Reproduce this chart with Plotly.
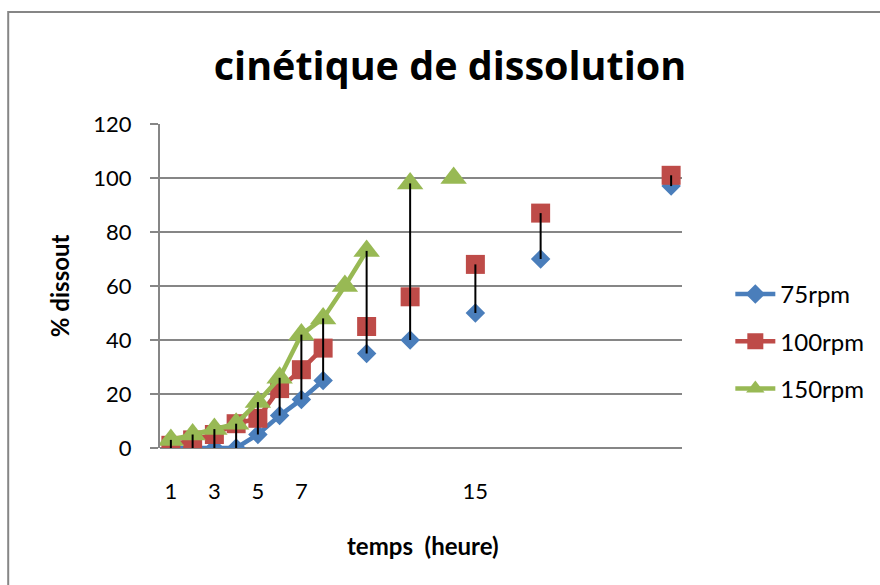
import plotly.graph_objects as go

# categories (hours)
hours = list(range(1, 25))
# values per series (None = no measurement)
rpm75 = {1: 0, 2: 0, 3: 0, 4: 0, 5: 5, 6: 12, 7: 18, 8: 25, 10: 35, 12: 40, 15: 50, 18: 70, 24: 97}
rpm100 = {1: 1, 2: 3, 3: 5, 4: 9, 5: 11, 6: 22, 7: 29, 8: 37, 10: 45, 12: 56, 15: 68, 18: 87, 24: 101}
rpm150 = {1: 3, 2: 5, 3: 7, 4: 9, 5: 17, 6: 26, 7: 42, 8: 48, 9: 60, 10: 73, 12: 98, 14: 100}
series_names = ["75rpm", "100rpm", "150rpm"]
tick_labels = [1, 3, 5, 7, 15]
y_ticks = [0, 20, 40, 60, 80, 100, 120]

W, H = 880, 585
L, R, T, B = 160, 880 - 682.7, 124, 585 - 448
PW, PH = W - L - R, H - T - B

def px_x(p):
    return (p - L) / PW

def px_y(p):
    return (H - B - p) / PH

colors = ["#4A7EBB", "#BE4B48", "#98B954"]
symbols = ["diamond", "square", "triangle-up"]
sizes = [15, 19, 23]
data = [rpm75, rpm100, rpm150]

fig = go.Figure()

for name, d, c, s, sz in zip(series_names, data, colors, symbols, sizes):
    ys = [d.get(h) for h in hours]
    fig.add_trace(go.Scatter(
        x=hours, y=ys, name=name, mode="lines+markers", connectgaps=False,
        line=dict(color=c, width=4.5),
        marker=dict(symbol=s, size=sz, color=c, line=dict(width=0)),
        legendgroup=name,
    ))

# high-low lines (drawn on top)
hx, hy = [], []
for h in hours:
    vals = [d[h] for d in data if h in d]
    if len(vals) >= 2:
        hx += [h, h, None]
        hy += [min(vals), max(vals), None]
fig.add_trace(go.Scatter(x=hx, y=hy, mode="lines", line=dict(color="black", width=2),
                         showlegend=False, hoverinfo="skip"))

font = "Lato, 'Open Sans', sans-serif"
tfont = "'Open Sans', sans-serif"
fig.update_layout(
    width=W, height=H,
    margin=dict(l=L, r=R, t=T, b=B),
    paper_bgcolor="white", plot_bgcolor="white",
    font=dict(family=font, size=22, color="black"),
    title=dict(text="<b>cinétique de dissolution</b>", x=450 / W, xref="container", xanchor="center",
               y=1 - 66 / H, yref="container", yanchor="middle",
               font=dict(family=tfont, size=39.5, color="black")),
    xaxis=dict(range=[0.5, 24.5], tickvals=tick_labels, ticktext=[str(t) for t in tick_labels],
               showgrid=False, zeroline=False, showline=False, ticks="",
               ticklabelstandoff=28, tickfont=dict(size=22)),
    yaxis=dict(range=[0, 120], tickvals=y_ticks, showgrid=True, gridcolor="#868686", gridwidth=2,
               zeroline=True, zerolinecolor="#868686", zerolinewidth=2,
               showline=True, linecolor="#868686", linewidth=2,
               ticks="outside", ticklen=8, tickcolor="#868686", tickwidth=2,
               ticklabelstandoff=14, tickfont=dict(size=22)),
    legend=dict(x=px_x(730), y=px_y(272), xanchor="left", yanchor="top",
                traceorder="grouped", tracegroupgap=13, font=dict(size=24),
                bgcolor="rgba(0,0,0,0)", itemwidth=40),
    showlegend=True,
    shapes=[dict(type="rect", xref="paper", yref="paper",
                 x0=px_x(8), x1=px_x(884), y0=px_y(590), y1=px_y(12),
                 line=dict(color="#868686", width=2), fillcolor="rgba(0,0,0,0)", layer="below")],
    annotations=[
        dict(text="<b>% dissout</b>", xref="paper", yref="paper", x=px_x(59), y=px_y(286),
             textangle=-90, showarrow=False, xanchor="center", yanchor="middle",
             font=dict(family=font, size=24)),
        dict(text="<b>temps\u00a0 (heure)</b>", xref="paper", yref="paper", x=px_x(423), y=px_y(545),
             showarrow=False, xanchor="center", yanchor="middle",
             font=dict(family=font, size=24)),
    ],
)

fig.write_html("out.html")
